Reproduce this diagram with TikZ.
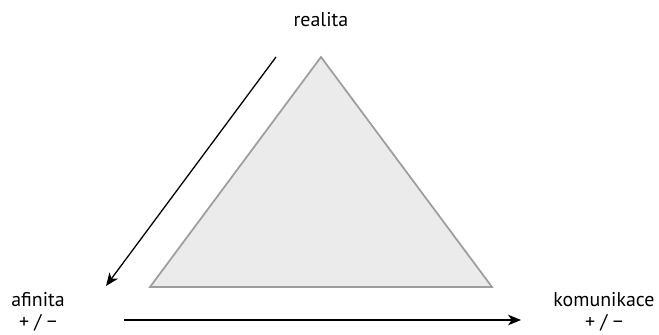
\documentclass[tikz,border=0pt]{standalone}
\usepackage{fontspec}
\setmainfont{PT Sans}
\usetikzlibrary{arrows.meta}
\tikzset{
  corner/.style = {
    align=center, font=\fontsize{17}{19}\selectfont, inner sep=0pt
  },
  face/.style = {
    draw=black!38, fill=black!8, line width=1.5pt, line join=miter
  },
  flow/.style = {
    draw=black, line width=1.1pt, -{Stealth[length=11pt, width=9pt, inset=3pt]}
  }
}

\begin{document}
\begin{tikzpicture}[x=0.03cm, y=-0.03cm]

    \useasboundingbox (0,0) rectangle (659,335);

    % ------------------------------------------------------------- Triangle
    \coordinate (apex)  at (321, 57);
    \coordinate (left)  at (150,287);
    \coordinate (right) at (492,287);
    \path [face] (apex) -- (left) -- (right) -- cycle;

    % --------------------------------------------------------------- Labels
    \node [corner] (realita)    at (321, 20) {realita};
    \node [corner] (afinita)    at ( 38,312) {afinita\\+ / \textminus};
    \node [corner] (komunikace) at (604,312) {komunikace\\+ / \textminus};

    % ----------------------------------------------------------- Connectors
    \coordinate (down_from) at (276, 57);
    \coordinate (down_to)   at (106,286);
    \coordinate (right_from) at (124,320);
    \coordinate (right_to)   at (521,320);

    \draw [flow] (down_from)  -- (down_to);
    \draw [flow] (right_from) -- (right_to);

  \end{tikzpicture}
\end{document}
